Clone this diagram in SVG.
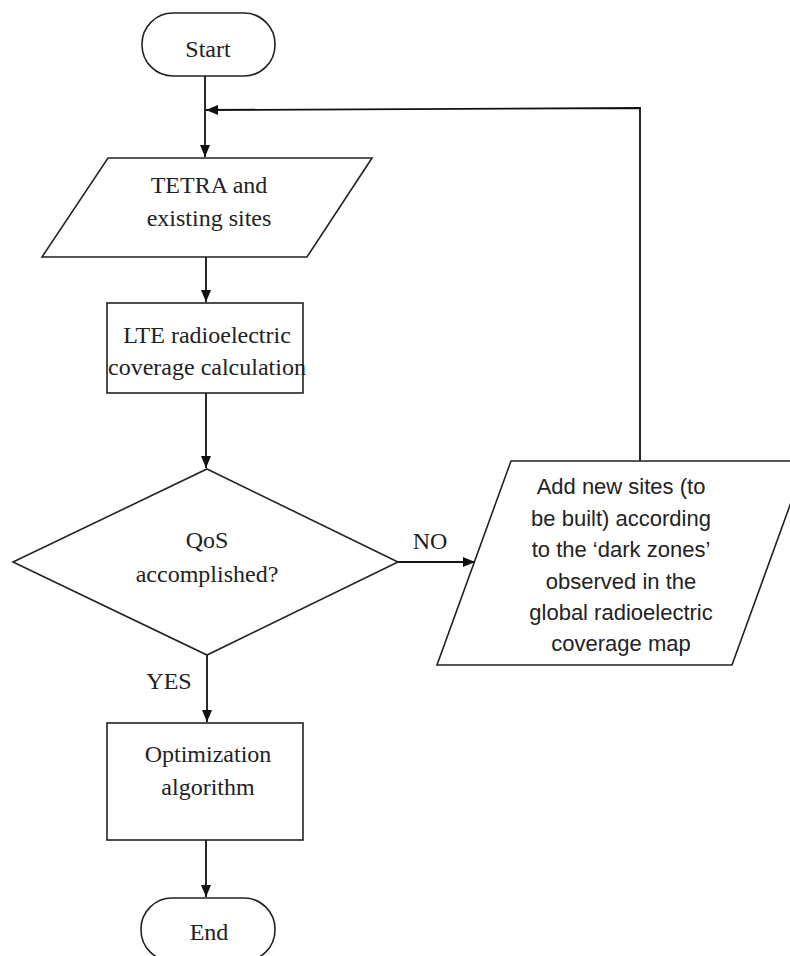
<svg xmlns="http://www.w3.org/2000/svg" width="790" height="956" viewBox="0 0 790 956">
<defs>
<marker id="arr" markerWidth="12" markerHeight="10" refX="12" refY="5" orient="auto" markerUnits="userSpaceOnUse">
<path d="M0,0 L12,5 L0,10 Z" fill="#111"/>
</marker>
<style>
.shape{fill:#fff;stroke:#222;stroke-width:1.6}
.conn{fill:none;stroke:#111;stroke-width:1.8}
.serif{font-family:"Liberation Serif","Times New Roman",serif;font-size:24px;fill:#222;text-anchor:middle}
.sans{font-family:"Liberation Sans",Arial,sans-serif;font-size:22px;fill:#222;text-anchor:middle}
</style>
</defs>
<rect width="790" height="956" fill="#fff"/>
<g id="connectors">
<line class="conn" x1="205" y1="76" x2="205" y2="157" marker-end="url(#arr)"/>
<polyline class="conn" points="640,461 640,108 206,110" marker-end="url(#arr)"/>
<line class="conn" x1="206" y1="257" x2="206" y2="302" marker-end="url(#arr)"/>
<line class="conn" x1="206" y1="393" x2="206" y2="468" marker-end="url(#arr)"/>
<line class="conn" x1="398" y1="562" x2="475" y2="562" marker-end="url(#arr)"/>
<line class="conn" x1="207" y1="655" x2="207" y2="722" marker-end="url(#arr)"/>
<line class="conn" x1="206" y1="840" x2="206" y2="897" marker-end="url(#arr)"/>
<text class="serif" x="430" y="549">NO</text>
<text class="serif" x="169" y="689">YES</text>
</g>
<g id="start">
<rect class="shape" x="142" y="13" width="133" height="63" rx="31" ry="31"/>
<text class="serif" x="208" y="57">Start</text>
</g>
<g id="input-tetra">
<polygon class="shape" points="108,158 372,158 307,257 42,257"/>
<text class="serif" x="209" y="193">TETRA and</text>
<text class="serif" x="209" y="226">existing sites</text>
</g>
<g id="lte-calc">
<rect class="shape" x="107" y="303" width="196" height="90"/>
<text class="serif" x="207" y="343">LTE radioelectric</text>
<text class="serif" x="207" y="375">coverage calculation</text>
</g>
<g id="qos-decision">
<polygon class="shape" points="207,469 398,562 207,655 13,562"/>
<text class="serif" x="207" y="548">QoS</text>
<text class="serif" x="207" y="582">accomplished?</text>
</g>
<g id="add-sites">
<polygon class="shape" points="511,461 806,461 732,665 437,665"/>
<text class="sans" x="621" y="494">Add new sites (to</text>
<text class="sans" x="621" y="526">be built) according</text>
<text class="sans" x="621" y="557">to the ‘dark zones’</text>
<text class="sans" x="621" y="589">observed in the</text>
<text class="sans" x="621" y="620">global radioelectric</text>
<text class="sans" x="621" y="651">coverage map</text>
</g>
<g id="optimization">
<rect class="shape" x="107" y="723" width="196" height="117"/>
<text class="serif" x="208" y="762">Optimization</text>
<text class="serif" x="208" y="795">algorithm</text>
</g>
<g id="end">
<rect class="shape" x="141" y="898" width="134" height="63" rx="31" ry="31"/>
<text class="serif" x="209" y="940">End</text>
</g>
</svg>
